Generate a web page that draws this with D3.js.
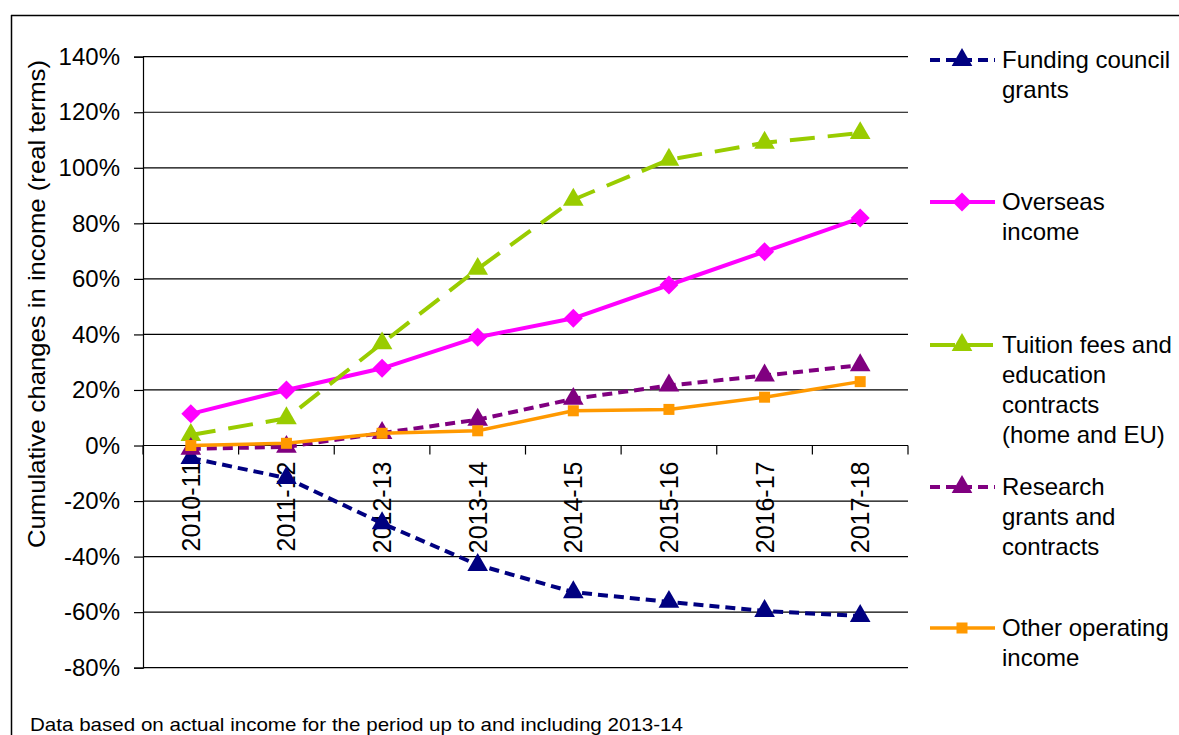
<!DOCTYPE html>
<html><head><meta charset="utf-8">
<script src="https://cdn.jsdelivr.net/npm/d3@7"></script>
<style>body{margin:0;background:#fff}svg{display:block}text{font-family:Arial,"Liberation Sans",sans-serif}</style>
</head><body>
<svg id="c" width="1179" height="735"></svg>
<script>
const categories = ["2010-11","2011-12","2012-13","2013-14","2014-15","2015-16","2016-17","2017-18"];
const fundingCouncil = [-4.5,-11.7,-28,-43,-52.8,-56.3,-59.6,-61.4];
const overseas = [11.4,20,27.8,39,45.8,57.8,69.8,81.9];
const tuition = [3.8,9.8,36.8,63.6,88.5,102.9,109,112.5];
const research = [-1.2,-0.5,4.5,9.3,16.8,21.6,25.2,28.9];
const otherIncome = [0,0.8,4.4,5.3,12.5,13,17.4,23];
const yTicks = [-80,-60,-40,-20,0,20,40,60,80,100,120,140];
const seriesNames = [["Funding council","grants"],["Overseas","income"],["Tuition fees and","education","contracts","(home and EU)"],["Research","grants and","contracts"],["Other operating","income"]];
const footnote = "Data based on actual income for the period up to and including 2013-14";
const yTitle = "Cumulative changes in income (real terms)";

const series = [
  {name:seriesNames[0], values:fundingCouncil, color:"#000080", dash:"10,6", width:4, marker:"tri", ly:60},
  {name:seriesNames[1], values:overseas, color:"#ff00ff", dash:null, width:4, marker:"dia", ly:202},
  {name:seriesNames[2], values:tuition, color:"#99cc00", dash:"25,13", width:4, marker:"tri", ly:345},
  {name:seriesNames[3], values:research, color:"#800080", dash:"10,6", width:4, marker:"tri", ly:487},
  {name:seriesNames[4], values:otherIncome, color:"#ff9900", dash:null, width:3.5, marker:"sq", ly:628}
];

const svg = d3.select("#c");
const L=143, R=908, T=56.7, B=667.7;
const x = d3.scaleBand().domain(categories).range([L,R]);
const y = d3.scaleLinear().domain([-80,140]).range([B,T]);
const FS = "24px";

// outer frame
svg.append("line").attr("x1",11).attr("x2",1179).attr("y1",15.5).attr("y2",15.5).attr("stroke","#000").attr("stroke-width",1.5);
svg.append("line").attr("x1",11.5).attr("x2",11.5).attr("y1",15).attr("y2",735).attr("stroke","#000").attr("stroke-width",1.5);

// gridlines
svg.append("g").selectAll("line").data(yTicks).join("line")
  .attr("x1",L).attr("x2",R).attr("y1",d=>y(d)).attr("y2",d=>y(d))
  .attr("stroke","#000").attr("stroke-width",1.2);

// y axis
const ya = svg.append("g").attr("transform",`translate(${L},0)`)
  .call(d3.axisLeft(y).tickValues(yTicks).tickSize(9).tickPadding(14).tickFormat(d=>d+"%"));
ya.select(".domain").attr("stroke","#000").attr("stroke-width",1.2);
ya.selectAll(".tick line").attr("stroke","#000").attr("stroke-width",1.2);
ya.selectAll(".tick text").attr("font-size",FS).attr("fill","#000").attr("font-family","Arial,'Liberation Sans',sans-serif");

// x axis along 0
const y0 = y(0);
const boundaries = categories.map(c=>x(c)).concat([R]);
svg.append("g").selectAll("line").data(boundaries).join("line")
  .attr("x1",d=>d).attr("x2",d=>d).attr("y1",y0).attr("y2",y0+9)
  .attr("stroke","#000").attr("stroke-width",1.2);
svg.append("g").selectAll("text").data(categories).join("text")
  .attr("transform",d=>`translate(${x(d)+x.bandwidth()/2+9},${y0+16}) rotate(-90)`)
  .attr("text-anchor","end").attr("font-size","25px").attr("fill","#000").text(d=>d);

// y title
svg.append("text").attr("transform",`translate(45,${304}) rotate(-90)`).attr("text-anchor","middle")
  .attr("font-size",FS).attr("fill","#000").attr("textLength",488).attr("lengthAdjust","spacingAndGlyphs").text(yTitle);

const cx = d=>x(d)+x.bandwidth()/2;
function marker(g, type, px, py, color){
  if(type==="tri"){
    g.append("path").attr("d",d3.symbol(d3.symbolTriangle,185)()).attr("transform",`translate(${px},${py})`).attr("fill",color);
  } else if(type==="dia"){
    g.append("path").attr("d",`M0,-9.5L9.5,0L0,9.5L-9.5,0Z`).attr("transform",`translate(${px},${py})`).attr("fill",color);
  } else {
    g.append("rect").attr("x",px-5.5).attr("y",py-5.5).attr("width",11).attr("height",11).attr("fill",color);
  }
}

const line = d3.line().x((d,i)=>cx(categories[i])).y(d=>y(d));
series.forEach(s=>{
  const g = svg.append("g");
  g.append("path").datum(s.values).attr("d",line).attr("fill","none").attr("stroke",s.color)
    .attr("stroke-width",s.width).attr("stroke-dasharray",s.dash).attr("stroke-linejoin","round");
  s.values.forEach((v,i)=>marker(g,s.marker,cx(categories[i]),y(v),s.color));
  // legend
  const lg = svg.append("g");
  lg.append("line").attr("x1",930).attr("x2",995).attr("y1",s.ly).attr("y2",s.ly)
    .attr("stroke",s.color).attr("stroke-width",s.width).attr("stroke-dasharray",s.dash);
  marker(lg,s.marker,962,s.ly,s.color);
  s.name.forEach((t,j)=>lg.append("text").attr("x",1002).attr("y",s.ly+8+j*30)
    .attr("font-size",FS).attr("fill","#000").text(t));
});

// footnote
svg.append("text").attr("x",30).attr("y",731).attr("font-family","Carlito,'Open Sans',sans-serif")
  .attr("font-size","19px").attr("fill","#000").attr("textLength",653).attr("lengthAdjust","spacingAndGlyphs").text(footnote);
</script>
</body></html>
